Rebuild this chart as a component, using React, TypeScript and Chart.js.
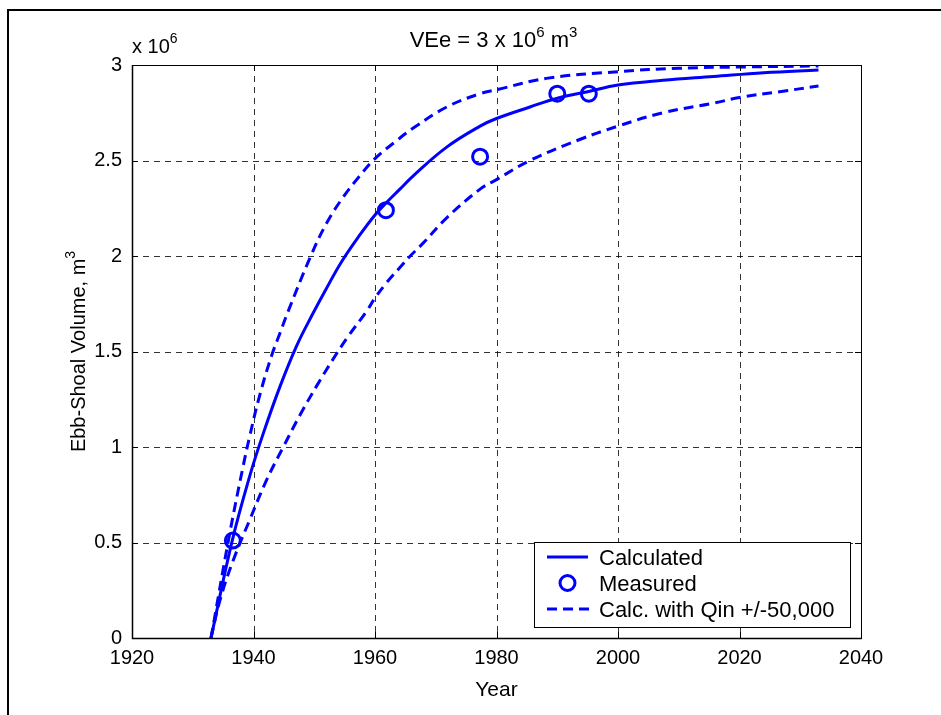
import React, { useEffect, useRef } from "react";
import { Chart, registerables } from "chart.js";

Chart.register(...registerables);

// ---- data (volumes in units of 10^6 m^3) ----
const calcYears = [1933, 1936.5, 1939.4, 1941.6, 1944.4, 1947.1, 1949.8, 1952, 1954.5, 1957.5, 1960, 1961.9, 1964.1, 1966.3, 1971.8, 1977.3, 1980, 1985.5, 1990, 1995, 2000, 2007.4, 2015.7, 2024, 2033];
const calcValues = [0, 0.51, 0.85, 1.07, 1.32, 1.53, 1.7, 1.83, 1.97, 2.11, 2.215, 2.28, 2.35, 2.42, 2.57, 2.68, 2.72, 2.78, 2.826, 2.86, 2.895, 2.92, 2.94, 2.96, 2.974];

const upperYears = [1933, 1936.1, 1938.3, 1939.4, 1941.1, 1943, 1944.4, 1945.7, 1949.3, 1952, 1954.8, 1957.5, 1960, 1963.8, 1966.3, 1971.8, 1977.3, 1980, 1988.2, 2000, 2010, 2021, 2033];
const upperValues = [0, 0.55, 0.9, 1.06, 1.28, 1.48, 1.6, 1.71, 1.99, 2.17, 2.31, 2.42, 2.51, 2.61, 2.67, 2.78, 2.85, 2.87, 2.93, 2.965, 2.983, 2.99, 2.995];

const lowerYears = [1933, 1934.5, 1936.7, 1939.4, 1942.2, 1944.9, 1947.7, 1950.4, 1953.1, 1955.6, 1958.6, 1960, 1961.9, 1964.1, 1965.8, 1968, 1971.8, 1977.3, 1980, 1985.5, 1993.7, 2000, 2007.4, 2015.7, 2020, 2026.6, 2033];
const lowerValues = [0, 0.2, 0.41, 0.62, 0.83, 1.0, 1.17, 1.32, 1.46, 1.58, 1.71, 1.78, 1.86, 1.94, 2.0, 2.07, 2.2, 2.35, 2.4, 2.5, 2.61, 2.68, 2.75, 2.8, 2.83, 2.86, 2.89];

const measuredYears = [1936.6, 1961.8, 1977.3, 1990, 1995.2];
const measuredValues = [0.51, 2.24, 2.52, 2.85, 2.85];

const legendLabels = ["Calculated", "Measured", "Calc. with Qin +/-50,000"];
const titleParts = ["VEe = 3 x 10", "6", " m", "3"];
const yLabelParts = ["Ebb-Shoal Volume, m", "3"];
const xLabel = "Year";
const exponentParts = ["x 10", "6"];

const FONT = '"Liberation Sans", Arial, Helvetica, sans-serif';
const BLUE = "#0000ff";

const toPoints = (xs: number[], ys: number[]) => xs.map((x, i) => ({ x, y: ys[i] }));

function drawParts(ctx: CanvasRenderingContext2D, parts: string[], x: number, y: number, size: number, supSize: number, supRise: number, align: "left" | "center") {
  const widths = parts.map((p, i) => {
    ctx.font = `${i % 2 === 1 ? supSize : size}px ${FONT}`;
    return ctx.measureText(p).width;
  });
  const total = widths.reduce((a, b) => a + b, 0);
  let cx = align === "center" ? x - total / 2 : x;
  ctx.textBaseline = "alphabetic";
  ctx.textAlign = "left";
  parts.forEach((p, i) => {
    const sup = i % 2 === 1;
    ctx.font = `${sup ? supSize : size}px ${FONT}`;
    ctx.fillText(p, cx, sup ? y - supRise : y);
    cx += widths[i];
  });
}

const decorPlugin = {
  id: "decor",
  beforeDatasetsDraw(chart: any) {
    const { ctx, chartArea: a, scales } = chart;
    const xs = scales.x;
    const ys = scales.y;
    ctx.save();
    ctx.strokeStyle = "rgba(0,0,0,0.8)";
    ctx.lineWidth = 1;
    ctx.setLineDash([6, 5]);
    xs.ticks.forEach((t: any) => {
      if (t.value <= xs.min || t.value >= xs.max) return;
      const px = Math.round(xs.getPixelForValue(t.value)) + 0.5;
      ctx.beginPath();
      ctx.moveTo(px, a.top);
      ctx.lineTo(px, a.bottom);
      ctx.stroke();
    });
    ys.ticks.forEach((t: any) => {
      if (t.value <= ys.min || t.value >= ys.max) return;
      const py = Math.round(ys.getPixelForValue(t.value)) + 0.5;
      ctx.beginPath();
      ctx.moveTo(a.left, py);
      ctx.lineTo(a.right, py);
      ctx.stroke();
    });
    ctx.restore();
  },
  afterDraw(chart: any) {
    const { ctx, chartArea: a, scales } = chart;
    const xs = scales.x;
    const ys = scales.y;
    ctx.save();
    ctx.setLineDash([]);
    // axes box
    ctx.strokeStyle = "#000";
    ctx.lineWidth = 1;
    ctx.strokeRect(a.left + 0.5, a.top + 0.5, a.right - a.left, a.bottom - a.top);
    ctx.lineWidth = 1.5;
    ctx.beginPath();
    ctx.moveTo(a.left + 0.5, a.top);
    ctx.lineTo(a.left + 0.5, a.bottom + 0.5);
    ctx.lineTo(a.right + 0.5, a.bottom + 0.5);
    ctx.stroke();
    // inward ticks
    ctx.lineWidth = 1;
    const tl = 6;
    xs.ticks.forEach((t: any) => {
      const px = Math.round(xs.getPixelForValue(t.value)) + 0.5;
      ctx.beginPath();
      ctx.moveTo(px, a.bottom);
      ctx.lineTo(px, a.bottom - tl);
      ctx.moveTo(px, a.top);
      ctx.lineTo(px, a.top + tl);
      ctx.stroke();
    });
    ys.ticks.forEach((t: any) => {
      const py = Math.round(ys.getPixelForValue(t.value)) + 0.5;
      ctx.beginPath();
      ctx.moveTo(a.left, py);
      ctx.lineTo(a.left + tl, py);
      ctx.moveTo(a.right, py);
      ctx.lineTo(a.right - tl, py);
      ctx.stroke();
    });

    ctx.fillStyle = "#000";
    // exponent label
    drawParts(ctx, exponentParts, a.left, 53, 20, 14, 10, "left");
    // title
    drawParts(ctx, titleParts, (a.left + a.right) / 2 - 3, 47, 22, 15, 10, "center");
    // x label
    ctx.font = `21px ${FONT}`;
    ctx.textAlign = "center";
    ctx.textBaseline = "alphabetic";
    ctx.fillText(xLabel, (a.left + a.right) / 2, 696);
    // y label (rotated)
    ctx.save();
    ctx.translate(85, (a.top + a.bottom) / 2);
    ctx.rotate(-Math.PI / 2);
    drawParts(ctx, yLabelParts, 0, 0, 20, 14, 10, "center");
    ctx.restore();

    // legend
    const lx = 534, ly = 542, lw = 316, lh = 85;
    ctx.fillStyle = "#fff";
    ctx.fillRect(lx, ly, lw, lh);
    ctx.strokeStyle = "#000";
    ctx.lineWidth = 1;
    ctx.strokeRect(lx + 0.5, ly + 0.5, lw, lh);
    const baselines = [565, 591, 617];
    ctx.strokeStyle = BLUE;
    ctx.lineWidth = 3;
    // solid sample
    ctx.beginPath();
    ctx.moveTo(547, baselines[0] - 8);
    ctx.lineTo(588, baselines[0] - 8);
    ctx.stroke();
    // circle sample
    ctx.lineWidth = 3;
    ctx.beginPath();
    ctx.arc(567.5, baselines[1] - 8, 7.5, 0, Math.PI * 2);
    ctx.stroke();
    // dashed sample
    ctx.lineWidth = 3;
    ctx.setLineDash([10, 6]);
    ctx.beginPath();
    ctx.moveTo(547, baselines[2] - 8);
    ctx.lineTo(590, baselines[2] - 8);
    ctx.stroke();
    ctx.setLineDash([]);
    ctx.fillStyle = "#000";
    ctx.font = `22px ${FONT}`;
    ctx.textAlign = "left";
    ctx.textBaseline = "alphabetic";
    legendLabels.forEach((l, i) => ctx.fillText(l, 599, baselines[i]));

    // outer frame
    ctx.strokeStyle = "#000";
    ctx.lineWidth = 2;
    ctx.beginPath();
    ctx.moveTo(8, 730);
    ctx.lineTo(8, 10);
    ctx.lineTo(960, 10);
    ctx.stroke();
    ctx.restore();
  },
};

export default function App() {
  const ref = useRef<HTMLCanvasElement | null>(null);
  useEffect(() => {
    if (!ref.current) return;
    const lineCommon = {
      borderColor: BLUE,
      borderWidth: 3,
      pointRadius: 0,
      tension: 0.4,
      fill: false,
    };
    const chart = new Chart(ref.current, {
      type: "line",
      data: {
        datasets: [
          { label: "Calculated", data: toPoints(calcYears, calcValues), ...lineCommon },
          { label: "Upper", data: toPoints(upperYears, upperValues), ...lineCommon, borderDash: [10, 6] },
          { label: "Lower", data: toPoints(lowerYears, lowerValues), ...lineCommon, borderDash: [10, 6] },
          {
            label: "Measured",
            data: toPoints(measuredYears, measuredValues),
            borderColor: BLUE,
            backgroundColor: "rgba(0,0,0,0)",
            showLine: false,
            pointRadius: 7.5,
            pointBorderWidth: 3,
            pointStyle: "circle",
          },
        ],
      } as any,
      options: {
        animation: false,
        responsive: false,
        devicePixelRatio: 1,
        events: [],
        layout: { padding: { top: 65, right: 80, left: 0, bottom: 0 } },
        plugins: {
          legend: { display: false },
          title: { display: false },
          tooltip: { enabled: false },
        },
        scales: {
          x: {
            type: "linear",
            min: 1920,
            max: 2040,
            grid: { display: false, drawTicks: false },
            border: { display: false },
            ticks: {
              stepSize: 20,
              color: "#000",
              font: { family: FONT, size: 20 },
              padding: 8,
              maxRotation: 0,
              callback: (v: any) => String(v),
            },
            afterFit: (s: any) => {
              s.height = 77;
            },
          },
          y: {
            type: "linear",
            min: 0,
            max: 3,
            grid: { display: false, drawTicks: false },
            border: { display: false },
            ticks: {
              stepSize: 0.5,
              color: "#000",
              font: { family: FONT, size: 20 },
              padding: 10,
              callback: (v: any) => String(v),
            },
            afterFit: (s: any) => {
              s.width = 132;
            },
          },
        },
      } as any,
      plugins: [decorPlugin],
    });
    return () => chart.destroy();
  }, []);
  return (
    <div style={{ position: "absolute", left: 0, top: 0, width: 941, height: 715, background: "#fff" }}>
      <canvas ref={ref} width={941} height={715} style={{ display: "block", width: 941, height: 715 }} />
    </div>
  );
}
